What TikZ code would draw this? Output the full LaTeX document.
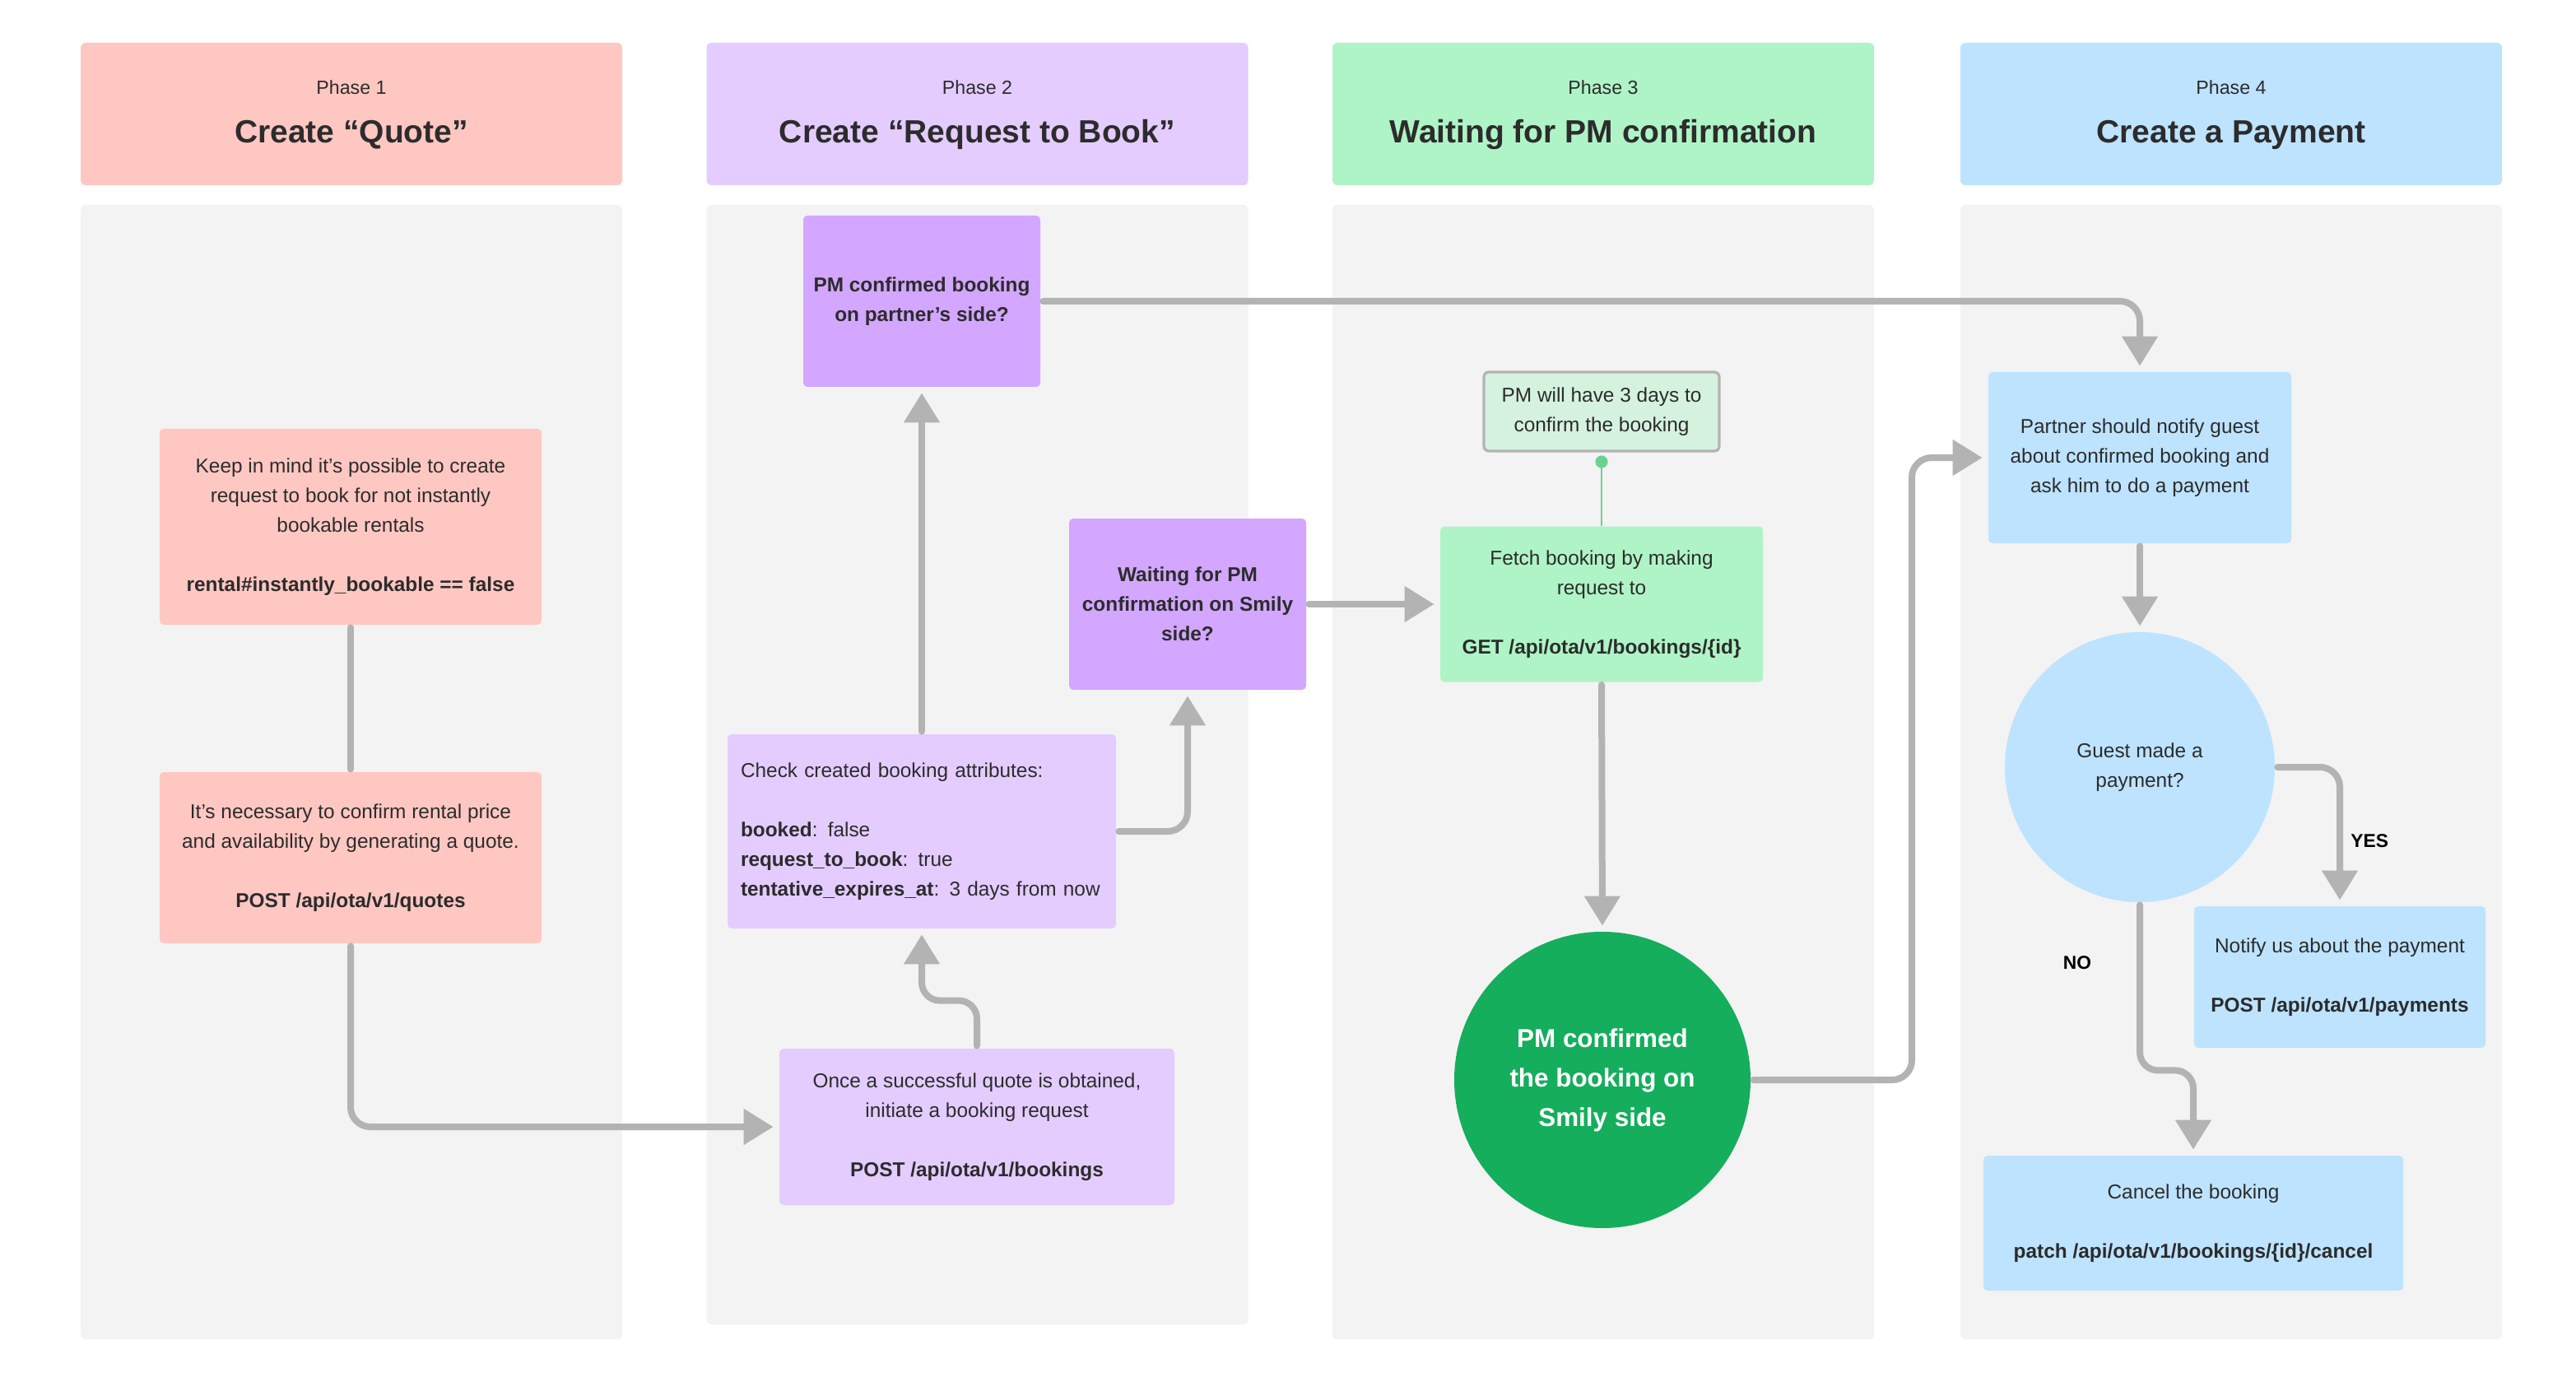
\documentclass[tikz,border=0pt]{standalone}
\usepackage{fontspec}
\setmainfont{Liberation Sans}
\usetikzlibrary{arrows.meta}
\definecolor{txt}{HTML}{2C2C2C}
\definecolor{lanegray}{HTML}{F3F3F3}
\definecolor{linegray}{HTML}{B3B3B3}
\definecolor{pinkbox}{HTML}{FFC7C2}
\definecolor{lilac}{HTML}{E4CCFF}
\definecolor{purpleD}{HTML}{D3A6FF}
\definecolor{mint}{HTML}{AFF4C6}
\definecolor{notefill}{HTML}{D5F2DF}
\definecolor{greenD}{HTML}{14AE5C}
\definecolor{sky}{HTML}{BDE3FF}
\definecolor{noteline}{HTML}{6BD391}
\begin{document}
\begin{tikzpicture}[x=1pt,y=-1pt,
  lane/.style={draw=none,fill=lanegray,rounded corners=3pt,minimum width=329pt,inner sep=0pt},
  hdr/.style={rounded corners=3pt,minimum width=329pt,minimum height=86.5pt,inner sep=0pt},
  phasetxt/.style={anchor=base,inner sep=0pt,font=\fontsize{11.6}{14}\selectfont,text=txt},
  titletxt/.style={anchor=base,inner sep=0pt,font=\bfseries\fontsize{19.5}{24}\selectfont,text=txt},
  box/.style={rectangle,rounded corners=2.5pt,inner sep=0pt,align=center,text=txt,font=\fontsize{12.2}{18}\selectfont},
  boldbox/.style={box,font=\bfseries\fontsize{12.2}{18}\selectfont},
  lbl/.style={inner sep=0pt,text=black,font=\bfseries\fontsize{11.4}{14}\selectfont},
  link/.style={draw=linegray,line width=4pt,line cap=round,shorten <=1.5pt},
  arr/.style={link,-{Triangle[length=18pt,width=21pt]},shorten >=3.5pt},
]
\path[use as bounding box,fill=white] (0,0) rectangle (1565,839.5);

% lanes
\node[lane,minimum height=689pt] (lane1) at (213.5,469) {};
\node[lane,minimum height=680pt] (lane2) at (593.75,464.5) {};
\node[lane,minimum height=689pt] (lane3) at (974,469) {};
\node[lane,minimum height=689pt] (lane4) at (1355.5,469) {};

% headers
\node[hdr,fill=pinkbox] (h1) at (213.5,69.25) {};
\node[phasetxt] (p1) at (213.5,57.2) {Phase 1};
\node[titletxt] (t1) at (213.5,87) {Create “Quote”};
\node[hdr,fill=lilac] (h2) at (593.75,69.25) {};
\node[phasetxt] (p2) at (593.75,57.2) {Phase 2};
\node[titletxt] (t2) at (593.75,87) {Create “Request to Book”};
\node[hdr,fill=mint] (h3) at (974,69.25) {};
\node[phasetxt] (p3) at (974,57.2) {Phase 3};
\node[titletxt] (t3) at (974,87) {Waiting for PM confirmation};
\node[hdr,fill=sky] (h4) at (1355.5,69.25) {};
\node[phasetxt] (p4) at (1355.5,57.2) {Phase 4};
\node[titletxt] (t4) at (1355.5,87) {Create a Payment};

% phase 1
\node[box,fill=pinkbox,minimum width=232pt,minimum height=119pt] (keep) at (213,320) {Keep in mind it’s possible to create\\request to book for not instantly\\bookable rentals\\[18pt]\textbf{rental\#instantly\_bookable == false}};
\node[box,fill=pinkbox,minimum width=232pt,minimum height=104pt] (quote) at (213,521) {It’s necessary to confirm rental price\\and availability by generating a quote.\\[18pt]\textbf{POST /api/ota/v1/quotes}};

% phase 2
\node[boldbox,fill=purpleD,minimum width=144pt,minimum height=104pt] (pmc) at (560,183) {PM confirmed booking\\on partner’s side?};
\node[boldbox,fill=purpleD,minimum width=144pt,minimum height=104pt] (wait) at (721.5,367) {Waiting for PM\\confirmation on Smily\\side?};
\node[box,fill=lilac,minimum width=236pt,minimum height=118pt,align=left,text width=220pt] (check) at (560,505) {Check created booking attributes:\\[18pt]\textbf{booked}: false\\\textbf{request\_to\_book}: true\\\textbf{tentative\_expires\_at}: 3 days from now};
\node[box,fill=lilac,minimum width=240pt,minimum height=95pt] (book) at (593.5,684.5) {Once a successful quote is obtained,\\initiate a booking request\\[18pt]\textbf{POST /api/ota/v1/bookings}};

% phase 3
\node[box,fill=notefill,draw=linegray,line width=1.6pt,rounded corners=3pt,minimum width=143pt,minimum height=48pt] (note) at (973,250) {PM will have 3 days to\\confirm the booking};
\coordinate (dot) at (973,280.5);
\node[box,fill=mint,minimum width=196pt,minimum height=94.5pt] (fetch) at (973,367) {Fetch booking by making\\request to\\[18pt]\textbf{GET /api/ota/v1/bookings/\{id\}}};
\node[circle,fill=greenD,minimum size=180pt,inner sep=0pt,align=center,text=white,font=\bfseries\fontsize{15.7}{24}\selectfont] (conf) at (973.5,656) {PM confirmed\\the booking on\\Smily side};
\coordinate (bend) at (1161.5,656);

% phase 4
\node[box,fill=sky,minimum width=184pt,minimum height=104pt] (partner) at (1300,278) {Partner should notify guest\\about confirmed booking and\\ask him to do a payment};
\node[circle,fill=sky,minimum size=164pt,inner sep=0pt,align=center,text=txt,font=\fontsize{12.2}{18}\selectfont] (guest) at (1300,466) {Guest made a\\payment?};
\node[box,fill=sky,minimum width=177pt,minimum height=86pt] (notify) at (1421.5,593.5) {Notify us about the payment\\[18pt]\textbf{POST /api/ota/v1/payments}};
\node[box,fill=sky,minimum width=255pt,minimum height=82pt] (cancel) at (1332.5,743) {Cancel the booking\\[18pt]\textbf{patch /api/ota/v1/bookings/\{id\}/cancel}};
\node[lbl,anchor=west] (yes) at (1428,511) {YES};
\node[lbl] (no) at (1262,585) {NO};

% connectors
\draw[link,shorten >=1.5pt] (keep.south) -- (quote.north);
\draw[arr,rounded corners=12pt] (quote.south) |- (book.west);
\draw[arr,rounded corners=11pt] (book.north) -- ++(0,-29) -| (check.south);
\draw[arr] (check.north) -- (pmc.south);
\draw[arr,rounded corners=12pt] (check.east) -| (wait.south);
\draw[arr,rounded corners=12pt] (pmc.east) -| (partner.north);
\draw[arr] (wait.east) -- (fetch.west);
\draw[noteline,line width=1.1pt] (dot) -- (fetch.north);
\fill[noteline] (dot) circle[radius=3.8pt];
\draw[arr] (fetch.south) -- (conf.north);
\draw[arr,rounded corners=12pt] (conf.east) -- (bend) |- (partner.west);
\draw[arr] (partner.south) -- (guest.north);
\draw[arr,rounded corners=12pt] (guest.east) -| (notify.north);
\draw[arr,rounded corners=11pt] (guest.south) -- ++(0,102) -| (cancel.north);
\end{tikzpicture}
\end{document}
